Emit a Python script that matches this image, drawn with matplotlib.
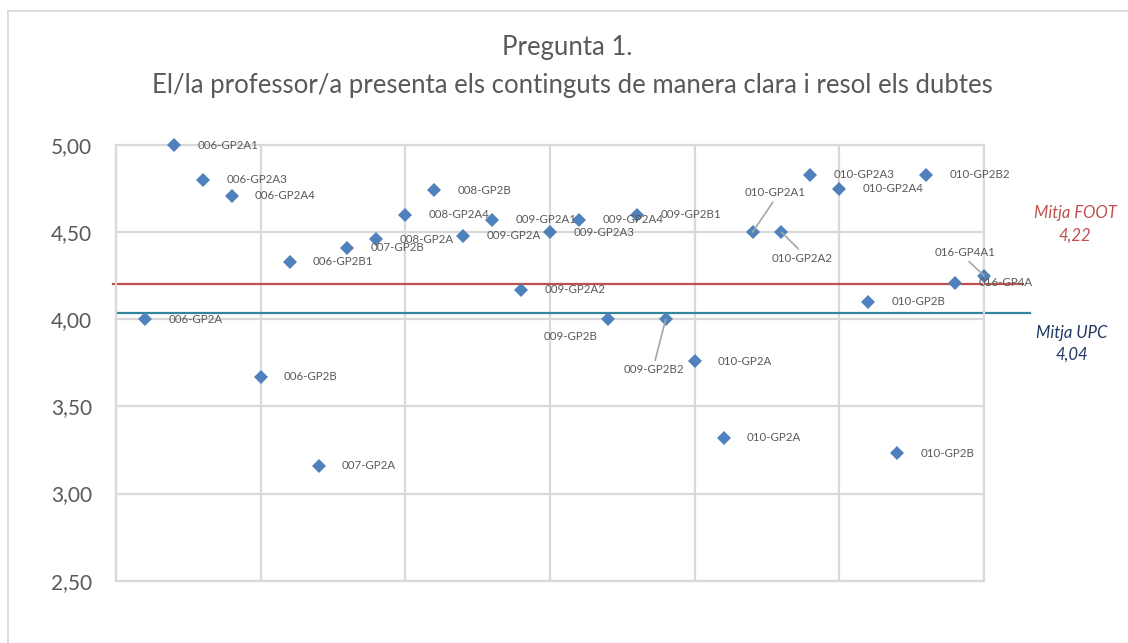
import matplotlib.pyplot as plt
from matplotlib.lines import Line2D

plt.rcParams['font.family'] = ['Lato', 'DejaVu Sans']

# data points (one per group, evenly spaced along x)
groups = ['006-GP2A', '006-GP2A1', '006-GP2A3', '006-GP2A4', '006-GP2B', '006-GP2B1',
          '007-GP2A', '007-GP2B', '008-GP2A', '008-GP2A4', '008-GP2B',
          '009-GP2A', '009-GP2A1', '009-GP2A2', '009-GP2A3', '009-GP2A4', '009-GP2B',
          '009-GP2B1', '009-GP2B2', '010-GP2A', '010-GP2A', '010-GP2A1', '010-GP2A2',
          '010-GP2A3', '010-GP2A4', '010-GP2B', '010-GP2B', '010-GP2B2',
          '016-GP4A', '016-GP4A1']
xpos = [0.2, 0.4, 0.6, 0.8, 1.0, 1.2, 1.4, 1.6, 1.8, 2.0, 2.2, 2.4, 2.6, 2.8, 3.0,
        3.2, 3.4, 3.6, 3.8, 4.0, 4.2, 4.4, 4.6, 4.8, 5.0, 5.2, 5.4, 5.6, 5.8, 6.0]
scores = [4.00, 5.00, 4.80, 4.71, 3.67, 4.33, 3.16, 4.41, 4.46, 4.60, 4.74,
          4.48, 4.57, 4.17, 4.50, 4.57, 4.00, 4.60, 4.00, 3.76, 3.32, 4.50, 4.50,
          4.83, 4.75, 4.10, 3.23, 4.83, 4.21, 4.25]

# reference lines
foot_mean = '4,22'
upc_mean = '4,04'
foot_line_y = 4.205
upc_line_y = 4.036
foot_line_x = [-0.02, 6.27]
upc_line_x = [0.014, 6.32]

yticks = [2.5, 3.0, 3.5, 4.0, 4.5, 5.0]
ytick_labels = ['2,50', '3,00', '3,50', '4,00', '4,50', '5,00']

# labels that Excel moved off the default right-hand spot (offset in points, leader line)
moved = {
    16: ((-26.6, -12.5), None),
    18: ((-8.4, -36.5), (0.5, 1)),
    21: ((16.6, 28.4), (0.5, 0)),
    22: ((14.8, -18.7), (0.5, 1)),
    29: ((-13.5, 16.8), (0.5, 0)),
}

grey = '#595959'
grid_c = '#d9d9d9'

fig = plt.figure(figsize=(11.28, 6.43), dpi=100)
ax = fig.add_axes([116/1128, 1-580.7/643, 868/1128, 435.7/643])

# outer chart border (only left and top edges are inside the picture)
bx, by = 7.5/1128, 1-10.5/643
fig.lines.append(Line2D([bx, bx], [0, by], transform=fig.transFigure, color=grid_c, lw=1.3))
fig.lines.append(Line2D([bx, 1], [by, by], transform=fig.transFigure, color=grid_c, lw=1.3))

ax.set_xlim(0, 6)
ax.set_ylim(2.5, 5.0)
ax.set_xticks([0, 1, 2, 3, 4, 5, 6])
ax.set_yticks(yticks)
ax.set_yticklabels(ytick_labels)
ax.tick_params(axis='x', length=0, labelbottom=False)
ax.tick_params(axis='y', length=0, pad=17, labelsize=15, labelcolor=grey)
ax.grid(True, color=grid_c, lw=1.6)
ax.set_axisbelow(True)
for s in ax.spines.values():
    s.set_color(grid_c)
    s.set_linewidth(1.6)

ax.plot(foot_line_x, [foot_line_y, foot_line_y], color='#c0504d', lw=1.6, clip_on=False, zorder=2)
ax.plot(upc_line_x, [upc_line_y, upc_line_y], color='#31859c', lw=1.6, clip_on=False, zorder=2)

ax.plot(xpos, scores, linestyle='none', marker='D', ms=7.6, color='#4f81bd',
        markeredgewidth=0, clip_on=False, zorder=3)

for i, (lab, x, y) in enumerate(zip(groups, xpos, scores)):
    if i in moved:
        off, rel = moved[i]
        ap = None
        if rel is not None:
            ap = dict(arrowstyle='-', color='#a6a6a6', lw=1.2, shrinkA=1, shrinkB=0, relpos=rel)
        ax.annotate(lab, (x, y), xytext=off, textcoords='offset points', ha='center',
                    va='center', fontsize=8.3, color=grey, arrowprops=ap, zorder=4)
    else:
        ax.annotate(lab, (x, y), xytext=(16.8, 0), textcoords='offset points', ha='left',
                    va='center', fontsize=8.3, color=grey, zorder=4)

fig.text(0.503, 1-48/643, 'Pregunta 1.', ha='center', va='center', fontsize=18.5, color=grey)
fig.text(0.507, 1-86/643, 'El/la professor/a presenta els continguts de manera clara i resol els dubtes',
         ha='center', va='center', fontsize=18.5, color=grey)

fig.text(1075/1128, 1-213/643, 'Mitja FOOT', ha='center', va='center', fontsize=12,
         style='italic', color='#c0504d')
fig.text(1075/1128, 1-236/643, foot_mean, ha='center', va='center', fontsize=12,
         style='italic', color='#c0504d')
fig.text(1072/1128, 1-333/643, 'Mitja UPC', ha='center', va='center', fontsize=12,
         style='italic', color='#1f3864')
fig.text(1072/1128, 1-355/643, upc_mean, ha='center', va='center', fontsize=12,
         style='italic', color='#1f3864')

fig.savefig('out.png', dpi=100)
